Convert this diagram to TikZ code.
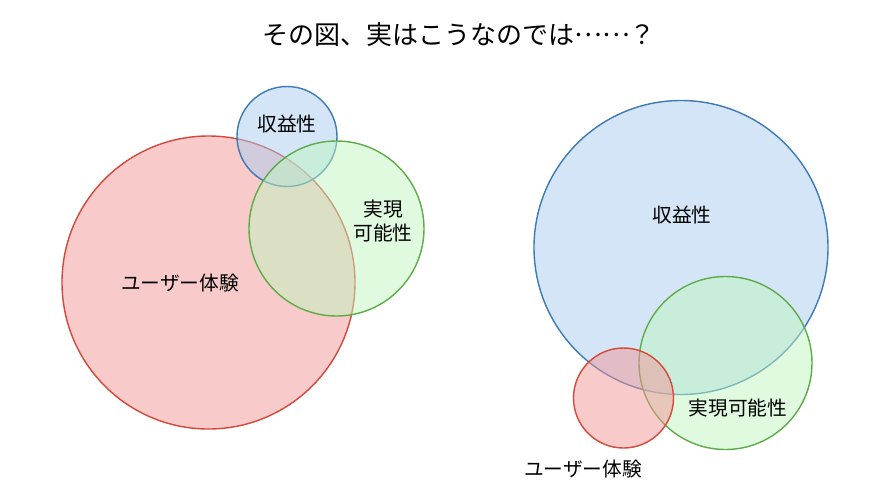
\documentclass[tikz,border=0pt]{standalone}
\usepackage{fontspec}
\setmainfont{Noto Sans CJK JP}
\usepackage{xcolor}
\usetikzlibrary{positioning}
\definecolor{uxred}   {RGB}{214,72,58}
\definecolor{uxfill}  {RGB}{242,150,150}
\definecolor{revblue} {RGB}{62,122,182}
\definecolor{revfill} {RGB}{170,204,240}
\definecolor{feasgrn} {RGB}{94,172,72}
\definecolor{feasfill}{RGB}{192,246,192}
\newcommand{\midell}{\raisebox{0.32em}{……}}
\tikzset{
  % Venn circle
  venn/.style={draw=#1, line width=1pt},
  uxcirc/.style  ={venn=uxred,  fill=uxfill,  fill opacity=0.5},
  revcirc/.style ={venn=revblue, fill=revfill, fill opacity=0.5},
  feascirc/.style={venn=feasgrn, fill=feasfill, fill opacity=0.5},
  % Labels
  lbl/.style={font=\fontsize{14}{17}\selectfont, text=black, align=center, inner sep=1pt},
  ttl/.style={font=\fontsize{18.5}{22}\selectfont, text=black},
}

\begin{document}
\begin{tikzpicture}[x=0.025cm,y=-0.025cm]
    \useasboundingbox (0,0) rectangle (896,502);
    \fill[white] (0,0) rectangle (896,502);

    %% ── Title ──────────────────────────────────────────────
    \node[ttl] (title) at (459,35) {その図、実はこうなのでは\midell？};

    %% ── Left: what the figure says ─────────────────────────
    \draw[uxcirc]   (208.5,282.5) circle (146.5);
    \draw[revcirc]  (287,136.5)   circle (50);
    \draw[feascirc] (336.5,228.5) circle (87.5);
    \node[lbl] (uxL)   at (180,283) {ユーザー体験};
    \node[lbl] (revL)  at (287,124) {収益性};
    \node[lbl] (feasL) at (383,221) {実現\\可能性};

    %% ── Right: what it really is ───────────────────────────
    \draw[revcirc]  (681,247.5)   circle (147);
    \draw[feascirc] (725.5,363)   circle (86.5);
    \draw[uxcirc]   (623.5,398)   circle (50);
    \node[lbl] (revR)  at (682,215) {収益性};
    \node[lbl] (feasR) at (738,408) {実現可能性};
    \node[lbl] (uxR)   at (583,469) {ユーザー体験};

\end{tikzpicture}
\end{document}
